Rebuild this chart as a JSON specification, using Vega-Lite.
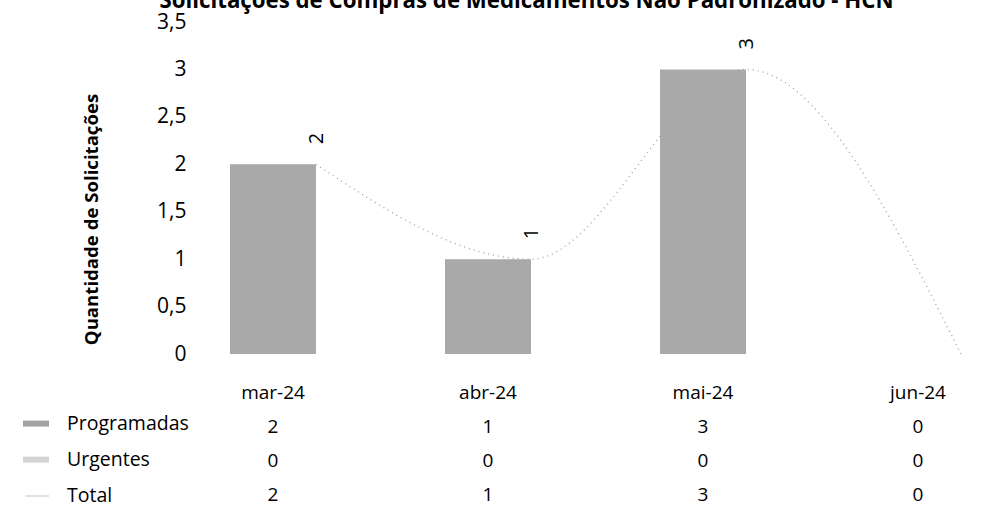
{
  "$schema": "https://vega.github.io/schema/vega-lite/v6.json",
  "padding": {"left": 10, "top": -10, "right": 0, "bottom": 0},
  "bounds": "flush",
  "spacing": 55.5,
  "title": {
    "text": "Solicitações de Compras de Medicamentos Não Padronizado - HCN",
    "fontSize": 22.25,
    "fontWeight": "bold",
    "color": "#000000",
    "anchor": "middle",
    "offset": -1.5,
    "dx": 39.5
  },
  "config": {
    "font": "Open Sans",
    "view": {"stroke": null},
    "axis": {"labelColor": "#000000", "titleColor": "#000000"},
    "legend": {"labelColor": "#000000"}
  },
  "datasets": {
    "dados": [
      {"mes": "mar-24", "serie": "Programadas", "valor": 2},
      {"mes": "abr-24", "serie": "Programadas", "valor": 1},
      {"mes": "mai-24", "serie": "Programadas", "valor": 3},
      {"mes": "jun-24", "serie": "Programadas", "valor": 0},
      {"mes": "mar-24", "serie": "Urgentes", "valor": 0},
      {"mes": "abr-24", "serie": "Urgentes", "valor": 0},
      {"mes": "mai-24", "serie": "Urgentes", "valor": 0},
      {"mes": "jun-24", "serie": "Urgentes", "valor": 0},
      {"mes": "mar-24", "serie": "Total", "valor": 2},
      {"mes": "abr-24", "serie": "Total", "valor": 1},
      {"mes": "mai-24", "serie": "Total", "valor": 3},
      {"mes": "jun-24", "serie": "Total", "valor": 0}
    ]
  },
  "vconcat": [
    {
      "width": 731,
      "height": 332,
      "data": {"name": "dados"},
      "layer": [
        {
          "transform": [{"filter": "datum.serie == 'Programadas'"}],
          "mark": {"type": "bar", "color": "#a9a9a9"},
          "encoding": {
            "x": {"field": "mes", "type": "nominal", "sort": ["mar-24", "abr-24", "mai-24", "jun-24"],
                  "scale": {"type": "band", "paddingInner": 0.6, "paddingOuter": 0}, "axis": null},
            "y": {"field": "valor", "type": "quantitative",
                  "scale": {"domain": [0, 3.5], "nice": false},
                  "axis": {
                    "values": [0, 0.5, 1, 1.5, 2, 2.5, 3, 3.5],
                    "labelExpr": "replace(toString(datum.value), '.', ',')",
                    "grid": false, "domain": false, "ticks": false,
                    "labelFontSize": 21, "labelPadding": 44,
                    "title": "Quantidade de Solicitações",
                    "titleFontSize": 18.6, "titleFontWeight": "bold", "titlePadding": 55, "titleY": 197
                  }}
          }
        },
        {
          "transform": [{"filter": "datum.serie == 'Total'"}],
          "mark": {"type": "line", "color": "#aaaaaa", "strokeWidth": 1.5, "strokeDash": [1, 4], "interpolate": "monotone"},
          "encoding": {
            "x": {"field": "mes", "type": "nominal", "sort": ["mar-24", "abr-24", "mai-24", "jun-24"], "bandPosition": 1},
            "y": {"field": "valor", "type": "quantitative"}
          }
        },
        {
          "transform": [{"filter": "datum.serie == 'Total' && datum.valor > 0"}],
          "mark": {"type": "text", "angle": 270, "align": "left", "baseline": "middle", "dx": 20, "dy": 1, "fontSize": 20, "color": "#000000"},
          "encoding": {
            "x": {"field": "mes", "type": "nominal", "sort": ["mar-24", "abr-24", "mai-24", "jun-24"], "bandPosition": 1},
            "y": {"field": "valor", "type": "quantitative"},
            "text": {"field": "valor", "type": "quantitative"}
          }
        }
      ]
    },
    {
      "width": 731,
      "height": 102,
      "data": {"name": "dados"},
      "encoding": {
        "x": {"field": "mes", "type": "nominal", "sort": ["mar-24", "abr-24", "mai-24", "jun-24"],
              "scale": {"type": "band", "paddingInner": 0.6, "paddingOuter": 0},
              "axis": {"orient": "top", "title": null, "domain": false, "ticks": false, "labelFontSize": 19, "labelPadding": 7, "labelAngle": 0}},
        "y": {"field": "serie", "type": "nominal", "sort": ["Programadas", "Urgentes", "Total"],
              "scale": {"type": "band", "paddingInner": 0, "paddingOuter": 0}, "axis": null}
      },
      "layer": [
        {
          "mark": {"type": "text", "fontSize": 19, "color": "#000000"},
          "encoding": {"text": {"field": "valor", "type": "quantitative"}}
        },
        {
          "mark": {"type": "point", "filled": true, "opacity": 0},
          "encoding": {
            "color": {"field": "serie", "type": "nominal",
                      "scale": {"domain": ["Programadas", "Urgentes", "Total"], "range": ["#a3a3a3", "#d4d4d4", "#c4c4c4"]},
                      "legend": {"orient": "none", "legendX": -220, "legendY": 376, "title": null,
                                 "labelFontSize": 19.5, "symbolSize": 2704, "symbolOpacity": 1, "symbolStrokeWidth": 0,
                                 "labelOffset": 5, "rowPadding": -1,
                                 "encode": {"symbols": {"update": {"opacity": {"value": 1}, "fillOpacity": {"value": 1}}}}}},
            "shape": {"field": "serie", "type": "nominal",
                      "scale": {"domain": ["Programadas", "Urgentes", "Total"],
                                "range": ["M-0.5,-0.13H0.5V0.1H-0.5Z", "M-0.5,-0.13H0.5V0.1H-0.5Z", "M-0.4,-0.02H0.5V0.02H-0.4Z"]}}
          }
        }
      ]
    }
  ]
}
